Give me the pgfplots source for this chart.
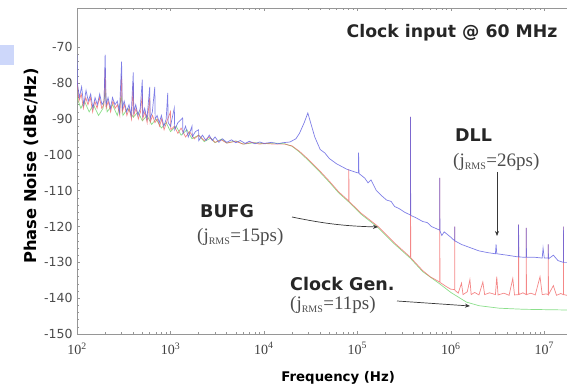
\documentclass[border=0pt]{standalone}
\usepackage{pgfplots}
\pgfplotsset{compat=1.18}
\usepackage{fontspec}
\setmainfont{Liberation Serif}
\newfontfamily\dv{DejaVu Sans}
\usetikzlibrary{arrows.meta}
\definecolor{cblue}{RGB}{95,95,225}
\definecolor{cred}{RGB}{240,95,95}
\definecolor{cgreen}{RGB}{110,215,110}
\definecolor{cbox}{RGB}{205,215,250}
\definecolor{cax}{RGB}{150,150,150}
\definecolor{carr}{RGB}{55,55,55}
\begin{document}
\begin{tikzpicture}
\path[use as bounding box] (-77pt,-53pt) rectangle (490pt,334pt);
\fill[cbox] (-77pt,269pt) rectangle (-63pt,289pt);
\begin{axis}[
  at={(0,0)}, anchor=south west,
  scale only axis, width=490pt, height=326pt,
  xmode=log, xmin=100, xmax=1.75e7,
  ymin=-150, ymax=-59,
  axis line style={cax, line width=0.6pt},
  axis x line*=box, axis y line*=left,
  tick style={cax, line width=0.5pt},
  major tick length=3pt, minor tick length=2pt,
  xtick={1e2,1e3,1e4,1e5,1e6,1e7},
  xticklabels={10\textsuperscript{2},10\textsuperscript{3},10\textsuperscript{4},10\textsuperscript{5},10\textsuperscript{6},10\textsuperscript{7}},
  ytick={-150,-140,-130,-120,-110,-100,-90,-80,-70},
  yticklabels={-150,-140,-130,-120,-110,-100,-90,-80,-70},
  minor y tick num=4,
  xticklabel style={font=\fontsize{14}{14}\selectfont, text=black!75, yshift=-5pt},
  yticklabel style={font=\dv\fontsize{12.5}{12}\selectfont, text=black!70, xshift=-1pt},
  xlabel={Frequency (Hz)},
  ylabel={Phase Noise (dBc/Hz)},
  xlabel style={font=\dv\bfseries\fontsize{13.3}{14}\selectfont, at={(axis description cs:0.533,-0.135)}, anchor=center},
  ylabel style={font=\dv\bfseries\fontsize{16.3}{16}\selectfont, at={(axis description cs:-0.094,0.515)}, anchor=center},
  clip=true,
]
% Clock Gen (green)
\addplot[cgreen, line width=0.7pt, opacity=0.8] table {
100 -84
110 -87
120 -85
135 -88
150 -86
170 -89
190 -87
200 -82
210 -88
240 -86
270 -89
300 -84
310 -89
350 -87
400 -89.5
450 -88
500 -90.5
560 -89
630 -91.5
700 -90
800 -92.5
900 -91
1000 -93.5
1150 -92
1300 -94.5
1500 -93
1700 -95.5
2000 -94.5
2300 -96.3
2700 -95.3
3000 -96.6
3500 -95.6
4000 -96.7
5000 -96.1
6000 -97
8000 -96.6
10000 -96.9
13000 -96.7
16700 -96.9
20000 -97.6
24000 -99.2
30000 -101.6
39700 -104.8
50000 -107.6
63000 -110.6
83000 -113.4
110000 -116.6
165000 -120.2
250000 -124.9
370000 -128.9
500000 -132.6
760000 -136
1000000 -138.4
1470000 -141.1
2000000 -142.1
3300000 -142.8
6000000 -143.1
10000000 -143.2
17500000 -143.3
};
% BUFG (red)
\addplot[cred, line width=0.7pt, opacity=0.75] table {
100 -79
105 -85
111 -83
117 -87
124 -84
131 -86
139 -84
147 -88
155 -85
164 -87
174 -84
184 -87
194 -86
200 -76
205 -87
216 -85
229 -88
242 -85
256 -87
271 -86
287 -89
300 -78
305 -88
322 -86
342 -89
362 -87
383 -90
400 -80
405 -89
428 -87
453 -90
478 -88
500 -83
505 -90
533 -88
563 -91
600 -84
606 -91
643 -89
683 -91
724 -90
765 -92
805 -90
855 -93
905 -91
1000 -88
1010 -93
1100 -92
1200 -94
1300 -92.5
1450 -95
1600 -93.5
1800 -95.5
2000 -94.5
2300 -96
2600 -95
3000 -96.5
3500 -95.8
4000 -96.7
5000 -96.2
6000 -97
7500 -96.5
9000 -97
10000 -96.8
13000 -97
16700 -97
20000 -97.5
24000 -99
30000 -101.3
39700 -104.5
50000 -107.3
63000 -110.3
81000 -112.9
81000 -104
81500 -113
110000 -116.3
165000 -119.9
250000 -124.6
370000 -128.6
370000 -89.4
372000 -128.7
500000 -132.3
600000 -134
760000 -135.5
760000 -106.4
765000 -135.6
900000 -136.8
1000000 -137.5
1100000 -137.6
1100000 -120
1105000 -137.8
1200000 -138.6
1300000 -135.8
1350000 -139
1500000 -138.2
1600000 -134.8
1650000 -139
1800000 -138.4
2000000 -139.1
2200000 -135.5
2300000 -139
2600000 -138.5
3000000 -139
3100000 -134
3200000 -139.1
3700000 -138.6
4200000 -139.2
4600000 -134.5
4800000 -139.1
5300000 -139
5300000 -119.5
5350000 -139
5900000 -138.5
6400000 -139
6400000 -120.4
6450000 -139
7200000 -138.6
8000000 -139.1
9000000 -134
9500000 -139
10500000 -138.8
11000000 -139
11000000 -125
11100000 -139
12500000 -136.5
13500000 -139.2
15000000 -138.7
16000000 -139
16000000 -120
16100000 -139
17500000 -139.2
};
% DLL (blue)
\addplot[cblue, line width=0.7pt, opacity=0.8] table {
100 -72
101 -80
106 -84
112 -81
118 -86
125 -82
132 -85
140 -83
148 -87
156 -84
165 -86
175 -83
185 -86
195 -85
200 -72
205 -86
215 -84
228 -87
240 -84
255 -86
270 -85
285 -88
300 -74
305 -87
320 -85
340 -88
360 -86
380 -89
400 -77
405 -88
425 -86
450 -89
475 -87
500 -79
505 -89
530 -87
560 -90
600 -81
606 -90
640 -88
680 -81
686 -90
720 -89
760 -91
800 -89
850 -92
900 -90
935 -82.7
945 -91
1000 -92
1100 -86.9
1110 -93
1200 -91
1350 -89.7
1360 -94
1450 -92
1550 -95
1700 -92
1710 -95
1850 -93.5
2000 -93
2010 -96
2200 -94.5
2400 -96
2600 -94.5
2800 -96
3000 -95
3300 -96.5
3600 -95.5
4000 -96.5
4500 -95.8
5000 -96.6
5600 -96
6300 -96.8
7000 -96.2
8000 -96.9
9000 -96.4
10000 -96.8
12000 -96.5
14000 -96.9
16000 -96.6
19000 -96.4
22000 -95.5
24000 -94
27000 -91
29500 -88.3
32000 -91.5
35000 -95
40000 -98.5
45000 -99.5
50000 -101
60000 -102.5
77000 -104
90000 -104.6
100000 -105
103000 -105
103000 -99.4
104000 -105.2
120000 -106.5
130000 -107.8
140000 -107
160000 -110
180000 -111.3
205000 -112.6
230000 -113
250000 -114.4
280000 -115
320000 -116
370000 -116.8
370000 -89.4
372000 -116.9
420000 -117.5
500000 -118.6
560000 -118.9
620000 -120
700000 -120.6
760000 -121
760000 -106.4
765000 -121.2
800000 -122.5
850000 -121.5
1000000 -123
1100000 -124
1100000 -120
1105000 -124
1300000 -125
1500000 -125.6
2000000 -126.8
2500000 -127.3
3000000 -127.6
3050000 -125
3100000 -127.6
4000000 -128
5300000 -128.5
5300000 -119.5
5350000 -128.5
6400000 -128.6
6400000 -120.4
6450000 -128.6
8000000 -128.6
9500000 -128.8
9700000 -126
10000000 -128.8
11000000 -128.8
11000000 -125
11100000 -129
12500000 -128
14000000 -129.5
16000000 -130
16000000 -120
16100000 -130
17500000 -130
};
\end{axis}
% annotations
\node[font=\dv\bfseries\fontsize{17.3}{17}\selectfont, text=black!85] at (375pt,301pt) {Clock input @ 60 MHz};
\node[anchor=west, font=\dv\bfseries\fontsize{17.5}{17}\selectfont, text=black!85, inner sep=0pt] at (378pt,199pt) {DLL};
\node[anchor=west, font=\fontsize{19}{19}\selectfont, text=black!70, inner sep=0pt] at (376pt,172pt) {(j\textsubscript{\fontsize{10}{10}\selectfont RMS}=26ps)};
\draw[carr, line width=0.7pt, -{Stealth[length=5pt,width=4pt]}] (420pt,162pt) -- (420pt,98pt);
\node[anchor=west, font=\dv\bfseries\fontsize{17.5}{17}\selectfont, text=black!85, inner sep=0pt] at (123pt,123pt) {BUFG};
\node[anchor=west, font=\fontsize{19}{19}\selectfont, text=black!70, inner sep=0pt] at (120pt,97pt) {(j\textsubscript{\fontsize{10}{10}\selectfont RMS}=15ps)};
\draw[carr, line width=0.7pt, -{Stealth[length=5pt,width=4pt]}] (215pt,117pt) to[bend right=5] (301pt,107pt);
\node[anchor=west, font=\dv\bfseries\fontsize{17.5}{17}\selectfont, text=black!85, inner sep=0pt] at (213pt,50pt) {Clock Gen.};
\node[anchor=west, font=\fontsize{19}{19}\selectfont, text=black!70, inner sep=0pt] at (213pt,29pt) {(j\textsubscript{\fontsize{10}{10}\selectfont RMS}=11ps)};
\draw[carr, line width=0.7pt, -{Stealth[length=5pt,width=4pt]}] (320pt,33pt) -- (393pt,28pt);
\end{tikzpicture}
\end{document}
